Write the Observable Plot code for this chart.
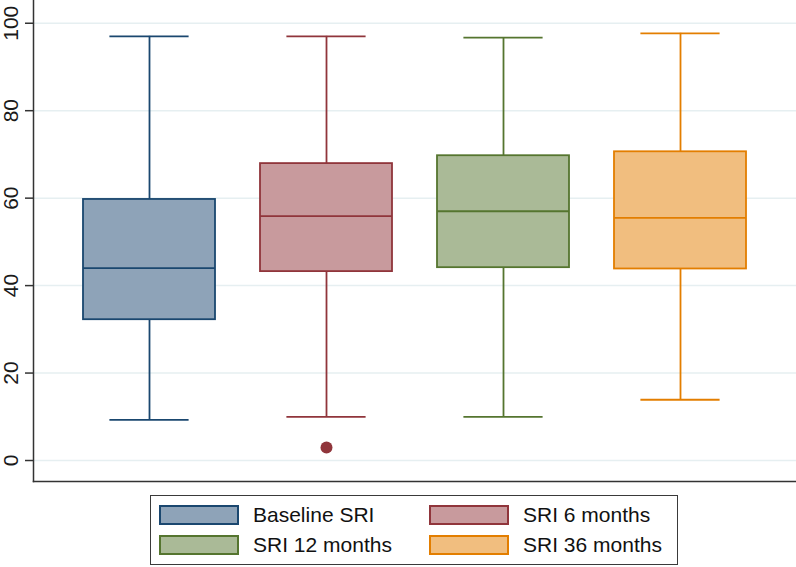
<!DOCTYPE html>
<html>
<head>
<meta charset="utf-8">
<script src="https://cdn.jsdelivr.net/npm/d3@7"></script>
<script src="https://cdn.jsdelivr.net/npm/@observablehq/plot@0.6"></script>
<style>
  html, body { margin: 0; padding: 0; background: #fff; }
  #wrap { position: relative; width: 796px; height: 567px; font-family: "Liberation Sans", Arial, sans-serif; }
  #legend { position: absolute; left: 150px; top: 495px; width: 526px; height: 68px; border: 1.5px solid #3a3a3a; box-sizing: content-box; }
  .item { position: absolute; display: flex; align-items: center; height: 20px; }
  .sw { width: 76px; height: 16px; border-width: 2px; border-style: solid; flex: none; }
  .lab { margin-left: 14px; font-size: 21px; color: #111; white-space: nowrap; line-height: 20px; }
</style>
</head>
<body>
<div id="wrap"><div id="chart"></div><div id="legend"></div></div>
<script>
const categories = ["Baseline SRI", "SRI 6 months", "SRI 12 months", "SRI 36 months"];
const whiskerLow  = [9.3, 10.0, 10.0, 13.9];
const q1          = [32.2, 43.2, 44.1, 43.8];
const median      = [44.0, 55.9, 57.0, 55.5];
const q3          = [59.7, 67.9, 69.7, 70.6];
const whiskerHigh = [97.0, 97.0, 96.7, 97.7];
const outlierGroup = ["SRI 6 months"];
const outlierValue = [3.0];
const yTicks = [0, 20, 40, 60, 80, 100];
const strokeColors = ["#1a476f", "#90353b", "#55752f", "#e37e00"];
const fillColors   = ["#8ea3b8", "#c89a9d", "#aaba97", "#f1be7f"];

const rows = categories.map((g, i) => ({
  group: g, lo: whiskerLow[i], q1: q1[i], med: median[i], q3: q3[i], hi: whiskerHigh[i],
  stroke: strokeColors[i], fill: fillColors[i]
}));
const outliers = outlierGroup.map((g, i) => ({
  group: g, value: outlierValue[i], color: strokeColors[categories.indexOf(g)]
}));

const sw = 1.8;
const chart = Plot.plot({
  width: 796,
  height: 485,
  marginTop: 0,
  marginBottom: 4,
  marginLeft: 33,
  marginRight: 0,
  style: { fontFamily: "Liberation Sans, Arial, sans-serif", background: "#fff" },
  x: { domain: categories, paddingInner: 0.256, paddingOuter: 0.277, axis: null },
  y: { domain: [-4.8, 105.2] },
  color: { type: "identity" },
  marks: [
    Plot.ruleY(yTicks, { stroke: "#e6eff1", strokeWidth: 1.5 }),
    Plot.ruleX(rows, { x: "group", y1: "q3", y2: "hi", stroke: "stroke", strokeWidth: sw }),
    Plot.ruleX(rows, { x: "group", y1: "lo", y2: "q1", stroke: "stroke", strokeWidth: sw }),
    Plot.barY(rows, { x: "group", y1: "q1", y2: "q3", fill: "fill", stroke: "stroke", strokeWidth: sw }),
    Plot.tickY(rows, { x: "group", y: "med", stroke: "stroke", strokeWidth: sw }),
    Plot.tickY(rows, { x: "group", y: "hi", stroke: "stroke", strokeWidth: sw, insetLeft: 26.4, insetRight: 26.4 }),
    Plot.tickY(rows, { x: "group", y: "lo", stroke: "stroke", strokeWidth: sw, insetLeft: 26.4, insetRight: 26.4 }),
    Plot.dot(outliers, { x: "group", y: "value", r: 6, fill: "color", stroke: "none" }),
    Plot.axisY({ ticks: yTicks, tickSize: 8, tickFormat: () => "", stroke: "#333", strokeWidth: 1.5 }),
    Plot.text(yTicks, { y: d => d, text: d => String(d), frameAnchor: "left", dx: -16, rotate: -90,
      textAnchor: "middle", lineAnchor: "bottom", fontSize: 21, fill: "#1a1a1a" }),
    Plot.frame({ anchor: "left", stroke: "#333", strokeWidth: 1.5 }),
    Plot.frame({ anchor: "bottom", stroke: "#333", strokeWidth: 1.5 })
  ]
});
document.getElementById("chart").appendChild(chart);

const legend = document.getElementById("legend");
const pos = [[8, 9], [278, 9], [8, 39], [278, 39]];
categories.forEach((g, i) => {
  const it = document.createElement("div");
  it.className = "item";
  it.style.left = pos[i][0] + "px";
  it.style.top = pos[i][1] + "px";
  const s = document.createElement("div");
  s.className = "sw";
  s.style.background = fillColors[i];
  s.style.borderColor = strokeColors[i];
  const t = document.createElement("span");
  t.className = "lab";
  t.textContent = g;
  it.appendChild(s); it.appendChild(t);
  legend.appendChild(it);
});
</script>
</body>
</html>
